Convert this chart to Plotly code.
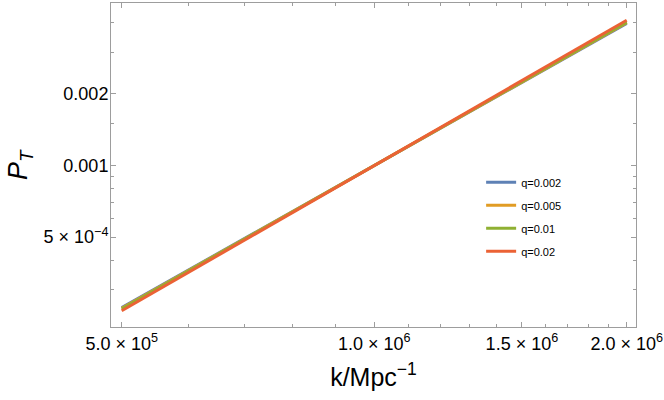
import plotly.graph_objects as go

# Data (log-log, tensor power spectrum)
k_vals = [5.0e5, 7.0e5, 1.0e6, 1.4e6, 2.0e6]
p_q0002 = [2.526e-4, 4.93e-4, 1.0e-3, 1.950e-3, 3.959e-3]
p_q0005 = [2.509e-4, 4.91e-4, 1.0e-3, 1.957e-3, 3.986e-3]
p_q001 = [2.491e-4, 4.891e-4, 1.0e-3, 1.963e-3, 4.014e-3]
p_q002 = [2.449e-4, 4.848e-4, 1.0e-3, 1.980e-3, 4.084e-3]
series_names = ["q=0.002", "q=0.005", "q=0.01", "q=0.02"]
series_vals = [p_q0002, p_q0005, p_q001, p_q002]
colors = ["#5E81B5", "#E19C24", "#8FB032", "#EB6235"]

x_tickvals = [5.0e5, 1.0e6, 1.5e6, 2.0e6]
x_ticktext = ["5.0 × 10<sup>5</sup>", "1.0 × 10<sup>6</sup>",
              "1.5 × 10<sup>6</sup>", "2.0 × 10<sup>6</sup>"]
x_minor = [6e5, 7e5, 8e5, 9e5, 1.1e6, 1.2e6, 1.3e6, 1.4e6,
           1.6e6, 1.7e6, 1.8e6, 1.9e6]
y_tickvals = [5e-4, 1e-3, 2e-3]
y_ticktext = ["5 × 10<sup>−4</sup>", "0.001", "0.002"]
y_minor = [3e-4, 4e-4, 6e-4, 7e-4, 8e-4, 9e-4, 1.5e-3, 3e-3, 4e-3]

FONT = "Liberation Sans, Arial, sans-serif"
AXCOL = "#9d9d9d"

fig = go.Figure()
for i, (name, vals, c) in enumerate(zip(series_names, series_vals, colors)):
    fig.add_trace(go.Scatter(x=k_vals, y=vals, mode="lines", name=name,
                             line=dict(color=c, width=3),
                             legendgroup=f"g{i}"))

fig.update_layout(
    width=664, height=400,
    margin=dict(l=111, r=28, t=3, b=73, autoexpand=False),
    paper_bgcolor="white", plot_bgcolor="white",
    font=dict(family=FONT, color="black", size=18),
    showlegend=True,
    legend=dict(x=0.705, y=0.34, xanchor="left", yanchor="middle",
                font=dict(size=11, family=FONT), bgcolor="rgba(0,0,0,0)",
                traceorder="grouped", tracegroupgap=4, itemwidth=30),
    annotations=[dict(text="<i>P</i><sub><i>T</i></sub>", textangle=-90,
                      xref="paper", yref="paper", x=-0.1733, y=0.5,
                      xanchor="center", yanchor="middle", showarrow=False,
                      font=dict(size=27, family=FONT, color="black"))],
)

fig.update_xaxes(
    type="log", range=[5.68621, 6.31212],
    showgrid=False, zeroline=False,
    showline=True, linecolor=AXCOL, linewidth=1, mirror="ticks",
    ticks="inside", ticklen=5, tickcolor=AXCOL, tickwidth=1,
    tickmode="array", tickvals=x_tickvals, ticktext=x_ticktext,
    tickfont=dict(size=18, family=FONT, color="black"),
    minor=dict(tickmode="array", tickvals=x_minor, ticks="inside",
               ticklen=3, tickcolor=AXCOL, tickwidth=1, showgrid=False),
    title=dict(text="k/Mpc<sup>−1</sup>", font=dict(size=25, family=FONT),
               standoff=15),
)
fig.update_yaxes(
    type="log", range=[-3.67923, -2.31617],
    showgrid=False, zeroline=False,
    showline=True, linecolor=AXCOL, linewidth=1, mirror="ticks",
    ticks="inside", ticklen=5, tickcolor=AXCOL, tickwidth=1,
    tickmode="array", tickvals=y_tickvals, ticktext=y_ticktext,
    tickfont=dict(size=18, family=FONT, color="black"),
    ticklabelstandoff=-2,
    minor=dict(tickmode="array", tickvals=y_minor, ticks="inside",
               ticklen=3, tickcolor=AXCOL, tickwidth=1, showgrid=False),
)

fig.write_html(
    "out.html",
    config={"displayModeBar": False},
    post_script="document.body.style.margin='0';document.body.style.padding='0';",
)
